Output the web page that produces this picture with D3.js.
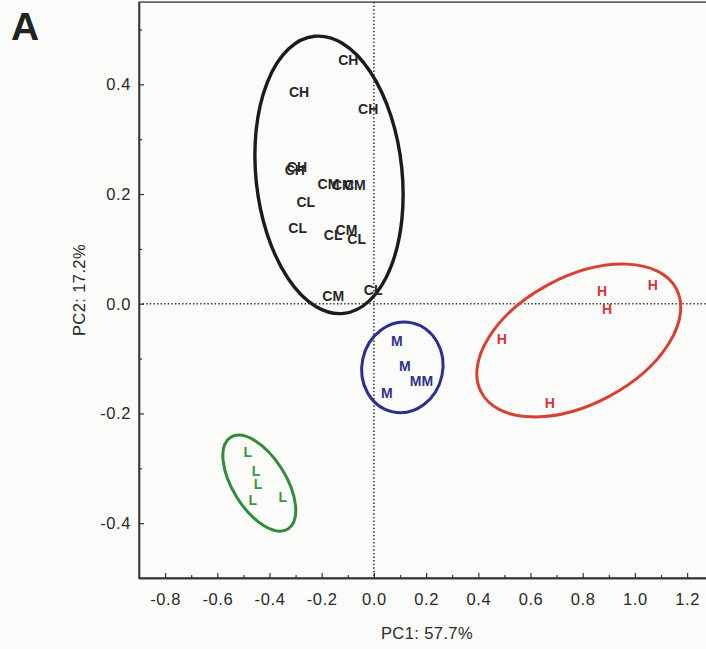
<!DOCTYPE html>
<html><head><meta charset="utf-8">
<script src="https://cdn.jsdelivr.net/npm/d3@7"></script>
<style>
html,body{margin:0;padding:0;background:#fbfbfa;}
svg{display:block;}
</style>
</head><body>
<svg id="chart" width="706" height="649"></svg>
<script>
// ---------------- data ----------------
const xTickValues = [-0.8,-0.6,-0.4,-0.2,0.0,0.2,0.4,0.6,0.8,1.0,1.2];
const yTickValues = [-0.4,-0.2,0.0,0.2,0.4];
const xTitle = "PC1: 57.7%";
const yTitle = "PC2: 17.2%";
const panelLabel = "A";

// control group (CH, CM, CL)
const controlLabels = ["CH","CH","CH","CH","CH","CM","CM","CM","CL","CL","CL","CM","CL","CM","CL"];
const controlPC1 = [-0.098,-0.287,-0.022,-0.295,-0.303,-0.174,-0.119,-0.073,-0.261,-0.292,-0.156,-0.105,-0.066,-0.156,-0.003];
const controlPC2 = [0.445,0.386,0.356,0.249,0.244,0.219,0.217,0.217,0.186,0.139,0.126,0.134,0.119,0.014,0.026];

// M group
const mLabels = ["M","M","M","M","M"];
const mPC1 = [0.088,0.119,0.160,0.205,0.050];
const mPC2 = [-0.068,-0.113,-0.141,-0.141,-0.162];

// H group
const hLabels = ["H","H","H","H","H"];
const hPC1 = [0.874,1.069,0.893,0.490,0.674];
const hPC2 = [0.023,0.035,-0.010,-0.064,-0.181];

// L group
const lLabels = ["L","L","L","L","L"];
const lPC1 = [-0.483,-0.452,-0.444,-0.464,-0.349];
const lPC2 = [-0.271,-0.304,-0.329,-0.358,-0.353];

// group ellipses: centre (PC1, PC2), half-axes in PC1 / PC2 units, rotation (deg)
const ellipseGroups = ["control","M","H","L"];
const ellipseCX = [-0.172, 0.109, 0.785, -0.439];
const ellipseCY = [0.235, -0.116, -0.067, -0.327];
const ellipseRX = [0.280, 0.155, 0.423, 0.207];
const ellipseRY = [0.254, 0.083, 0.116, 0.0485];
const ellipseRot = [-6, 12, -28, 58];

// ---------------- styles ----------------
const style = {
  control: {text:"#262626", stroke:"#1b1b1b"},
  M: {text:"#2f318f", stroke:"#2c2e92"},
  H: {text:"#d5333b", stroke:"#d8402f"},
  L: {text:"#3c973d", stroke:"#2f8d38"}
};
const FONT = "'Liberation Sans', Arial, Helvetica, sans-serif";

// ---------------- chart ----------------
const svg = d3.select("#chart");
const x = d3.scaleLinear().domain([-0.9, 1.35]).range([139, 139 + 2.25*261]);
const y = d3.scaleLinear().domain([-0.5, 0.55]).range([578, 578 - 1.05*548.5]);
const fmt = d => d.toFixed(1);
const axisColor = "#333";

const g = svg.append("g");

// frame
g.append("rect")
  .attr("x", x.range()[0]).attr("y", y.range()[1])
  .attr("width", x.range()[1]-x.range()[0]).attr("height", y.range()[0]-y.range()[1])
  .attr("fill","none").attr("stroke",axisColor).attr("stroke-width",1.3);

// minor ticks
const xMinor = d3.range(-0.9, 1.31, 0.1).map(v => +v.toFixed(2)).filter(v => !xTickValues.some(t => Math.abs(t-v)<1e-6));
const yMinor = d3.range(-0.5, 0.551, 0.1).map(v => +v.toFixed(2)).filter(v => !yTickValues.some(t => Math.abs(t-v)<1e-6));

g.append("g").attr("transform", `translate(0,${y.range()[0]})`)
  .call(d3.axisBottom(x).tickValues(xTickValues).tickFormat(fmt).tickSize(-5).tickPadding(15).tickSizeOuter(0));
g.append("g").attr("transform", `translate(0,${y.range()[0]})`)
  .call(d3.axisBottom(x).tickValues(xMinor).tickFormat("").tickSize(-3).tickSizeOuter(0));
g.append("g").attr("transform", `translate(${x.range()[0]},0)`)
  .call(d3.axisLeft(y).tickValues(yTickValues).tickFormat(fmt).tickSize(-5).tickPadding(8).tickSizeOuter(0));
g.append("g").attr("transform", `translate(${x.range()[0]},0)`)
  .call(d3.axisLeft(y).tickValues(yMinor).tickFormat("").tickSize(-3).tickSizeOuter(0));

g.selectAll(".domain").attr("stroke", axisColor).attr("stroke-width", 1.3);
g.selectAll(".tick line").attr("stroke", axisColor).attr("stroke-width", 1.2);
g.selectAll(".tick text")
  .attr("fill", "#2a2a2a")
  .style("font-family", FONT)
  .style("font-size", "16.5px")
  .style("letter-spacing", "0.6px");

// dotted zero lines
g.append("line")
  .attr("x1", x(0)).attr("x2", x(0)).attr("y1", y.range()[1]).attr("y2", y.range()[0])
  .attr("stroke","#333").attr("stroke-width",1.6).attr("stroke-dasharray","1.4 2.2");
g.append("line")
  .attr("x1", x.range()[0]).attr("x2", x.range()[1]).attr("y1", y(0)).attr("y2", y(0))
  .attr("stroke","#333").attr("stroke-width",1.6).attr("stroke-dasharray","1.4 2.2");

// ellipses
ellipseGroups.forEach((name, i) => {
  const cx = x(ellipseCX[i]), cy = y(ellipseCY[i]);
  const rx = x(ellipseCX[i] + ellipseRX[i]) - x(ellipseCX[i]);
  const ry = y(ellipseCY[i]) - y(ellipseCY[i] + ellipseRY[i]);
  g.append("ellipse")
    .attr("cx", cx).attr("cy", cy).attr("rx", rx).attr("ry", ry)
    .attr("transform", `rotate(${ellipseRot[i]},${cx},${cy})`)
    .attr("fill","none")
    .attr("stroke", style[name].stroke)
    .attr("stroke-width", name === "control" ? 3.4 : 3.0);
});

// point labels
function drawGroup(name, labels, xs, ys) {
  g.append("g").selectAll("text")
    .data(labels.map((l, i) => ({l, px: xs[i], py: ys[i]})))
    .join("text")
    .attr("x", d => x(d.px)).attr("y", d => y(d.py))
    .attr("dy", "0.36em")
    .attr("text-anchor", "middle")
    .attr("fill", style[name].text)
    .style("font-family", FONT)
    .style("font-weight", "bold")
    .style("font-size", "14px")
    .text(d => d.l);
}
drawGroup("control", controlLabels, controlPC1, controlPC2);
drawGroup("M", mLabels, mPC1, mPC2);
drawGroup("H", hLabels, hPC1, hPC2);
drawGroup("L", lLabels, lPC1, lPC2);

// axis titles
svg.append("text")
  .attr("x", 427).attr("y", 639)
  .attr("text-anchor","middle").attr("fill","#2a2a2a")
  .style("font-family", FONT)
  .style("font-size","16.5px").style("letter-spacing","0.4px")
  .text(xTitle);
svg.append("text")
  .attr("transform","translate(85,290) rotate(-90)")
  .attr("text-anchor","middle").attr("fill","#2a2a2a")
  .style("font-family", FONT)
  .style("font-size","16.5px").style("letter-spacing","0.4px")
  .text(yTitle);

// panel label
svg.append("text")
  .attr("x", 11).attr("y", 40)
  .attr("fill","#222")
  .style("font-family", FONT)
  .style("font-weight","bold").style("font-size","39px")
  .text(panelLabel);
</script>
</body></html>
